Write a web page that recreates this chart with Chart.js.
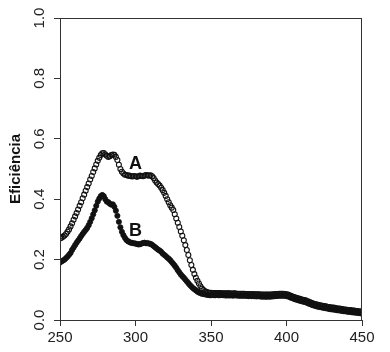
<!DOCTYPE html>
<html><head><meta charset="utf-8">
<script src="https://cdn.jsdelivr.net/npm/chart.js@4"></script>
<style>html,body{margin:0;padding:0;background:#fff}#w{width:390px;height:352px}</style>
</head><body><div id="w"><canvas id="c" width="390" height="352"></canvas></div>
<script>
const wavelengthStart = 250, wavelengthStep = 1, wavelengthCount = 201;
const wavelength = Array.from({length: wavelengthCount}, (_, i) => wavelengthStart + i * wavelengthStep);
const seriesA = [
0.270,0.272,0.276,0.280,0.285,0.292,0.300,0.310,0.320,0.332,
0.343,0.354,0.366,0.378,0.390,0.403,0.415,0.428,0.440,0.452,
0.465,0.477,0.490,0.502,0.515,0.527,0.537,0.546,0.552,0.553,
0.548,0.544,0.540,0.542,0.546,0.548,0.547,0.540,0.530,0.514,
0.500,0.491,0.485,0.481,0.480,0.478,0.478,0.476,0.475,0.477,
0.476,0.474,0.476,0.478,0.477,0.476,0.478,0.480,0.479,0.478,
0.479,0.476,0.470,0.462,0.455,0.450,0.445,0.438,0.430,0.421,
0.411,0.400,0.390,0.380,0.372,0.364,0.350,0.336,0.322,0.308,
0.293,0.279,0.264,0.248,0.232,0.215,0.198,0.182,0.166,0.152,
0.140,0.130,0.121,0.112,0.104,0.099,0.095,0.093,0.091,0.090,
0.090,0.089,0.089,0.089,0.088,0.089,0.089,0.088,0.088,0.088,
0.088,0.088,0.088,0.088,0.087,0.088,0.088,0.087,0.087,0.087,
0.087,0.087,0.087,0.086,0.086,0.086,0.086,0.085,0.086,0.085,
0.085,0.085,0.085,0.084,0.084,0.084,0.084,0.084,0.084,0.084,
0.084,0.085,0.085,0.086,0.086,0.087,0.087,0.087,0.087,0.086,
0.085,0.084,0.082,0.080,0.078,0.076,0.074,0.073,0.071,0.070,
0.068,0.067,0.066,0.064,0.062,0.060,0.058,0.056,0.054,0.053,
0.051,0.050,0.049,0.048,0.047,0.046,0.045,0.044,0.043,0.042,
0.041,0.041,0.040,0.039,0.038,0.038,0.037,0.036,0.035,0.035,
0.034,0.033,0.033,0.032,0.031,0.031,0.030,0.030,0.029,0.028,
0.028];
const seriesB = [
0.190,0.194,0.197,0.200,0.205,0.210,0.216,0.222,0.232,0.240,
0.248,0.256,0.263,0.270,0.278,0.285,0.292,0.298,0.305,0.314,
0.325,0.337,0.350,0.363,0.378,0.392,0.402,0.410,0.414,0.410,
0.400,0.392,0.390,0.385,0.382,0.383,0.375,0.362,0.345,0.325,
0.307,0.292,0.281,0.272,0.265,0.261,0.258,0.256,0.255,0.254,
0.253,0.252,0.250,0.251,0.253,0.255,0.256,0.254,0.255,0.253,
0.252,0.249,0.245,0.241,0.237,0.233,0.230,0.226,0.220,0.216,
0.212,0.207,0.203,0.198,0.192,0.186,0.180,0.173,0.165,0.158,
0.151,0.145,0.140,0.134,0.128,0.122,0.116,0.111,0.106,0.102,
0.098,0.094,0.091,0.089,0.087,0.086,0.085,0.084,0.083,0.082,
0.082,0.083,0.082,0.082,0.083,0.082,0.082,0.083,0.082,0.082,
0.081,0.082,0.081,0.082,0.081,0.081,0.082,0.081,0.081,0.080,
0.081,0.080,0.081,0.080,0.080,0.079,0.080,0.079,0.079,0.079,
0.078,0.079,0.078,0.078,0.077,0.078,0.077,0.077,0.078,0.077,
0.078,0.078,0.079,0.079,0.080,0.080,0.081,0.080,0.081,0.080,
0.079,0.078,0.076,0.074,0.072,0.070,0.068,0.067,0.065,0.064,
0.062,0.061,0.060,0.058,0.056,0.054,0.052,0.050,0.048,0.047,
0.045,0.044,0.043,0.042,0.041,0.040,0.039,0.038,0.037,0.036,
0.035,0.035,0.034,0.033,0.032,0.032,0.031,0.030,0.029,0.029,
0.028,0.027,0.027,0.026,0.025,0.025,0.024,0.024,0.023,0.022,
0.022];
const xTicks = [250,300,350,400,450];
const yTicks = [0.0,0.2,0.4,0.6,0.8,1.0];
const yTickLabels = ['0.0','0.2','0.4','0.6','0.8','1.0'];
const yTitle = 'Eficiência';
const seriesLabels = [{text:'A', x:300, y:0.518},{text:'B', x:300, y:0.295}];

const FONT = '"Liberation Sans", Arial, Helvetica, sans-serif';
const toPts = (ys) => wavelength.map((x,i)=>({x:x, y:ys[i]}));

const deco = {
  id:'deco',
  afterDraw(chart){
    const {ctx, chartArea:a, scales:{x, y}} = chart;
    ctx.save();
    ctx.strokeStyle = '#333'; ctx.lineWidth = 1;
    ctx.strokeRect(a.left+0.5, a.top+0.5, a.right-a.left-1, a.bottom-a.top);
    ctx.fillStyle = '#222';
    ctx.font = '15px ' + FONT;
    ctx.textAlign = 'center'; ctx.textBaseline = 'middle';
    xTicks.forEach(v=>{ ctx.fillText(String(v), x.getPixelForValue(v), 338); });
    yTicks.forEach((v,i)=>{
      ctx.save(); ctx.translate(40, y.getPixelForValue(v)); ctx.rotate(-Math.PI/2);
      ctx.fillText(yTickLabels[i], 0, 0); ctx.restore();
    });
    ctx.fillStyle = '#111';
    ctx.font = 'bold 15px ' + FONT;
    ctx.save(); ctx.translate(16, (a.top+a.bottom)/2); ctx.rotate(-Math.PI/2);
    ctx.fillText(yTitle, 0, 0); ctx.restore();
    ctx.font = 'bold 18px ' + FONT;
    seriesLabels.forEach(l=>{ ctx.fillText(l.text, x.getPixelForValue(l.x), y.getPixelForValue(l.y)); });
    ctx.restore();
  }
};

new Chart(document.getElementById('c'), {
  type:'scatter',
  data:{datasets:[
    {label:'A', data:toPts(seriesA), showLine:false, pointStyle:'circle', pointRadius:2.5, pointBorderWidth:1.1, pointBorderColor:'#111', pointBackgroundColor:'rgba(0,0,0,0)'},
    {label:'B', data:toPts(seriesB), showLine:false, pointStyle:'circle', pointRadius:2.6, pointBorderWidth:0.8, pointBorderColor:'#111', pointBackgroundColor:'#111'}
  ]},
  options:{
    responsive:false, animation:false, devicePixelRatio:1,
    layout:{padding:{top:18, right:28, left:0, bottom:0}},
    plugins:{legend:{display:false}, tooltip:{enabled:false}},
    scales:{
      x:{type:'linear', min:250, max:450,
        afterBuildTicks:(s)=>{ s.ticks = xTicks.map(v=>({value:v})); },
        afterFit:(s)=>{ s.height = 32; },
        ticks:{display:false},
        grid:{drawOnChartArea:false, drawTicks:true, tickLength:6, color:'#333'},
        border:{display:true, color:'#333'}},
      y:{type:'linear', min:0, max:1,
        afterBuildTicks:(s)=>{ s.ticks = yTicks.map(v=>({value:v})); },
        afterFit:(s)=>{ s.width = 60; },
        ticks:{display:false},
        grid:{drawOnChartArea:false, drawTicks:true, tickLength:6, color:'#333'},
        border:{display:true, color:'#333'}}
    }
  },
  plugins:[deco]
});
</script></body></html>
